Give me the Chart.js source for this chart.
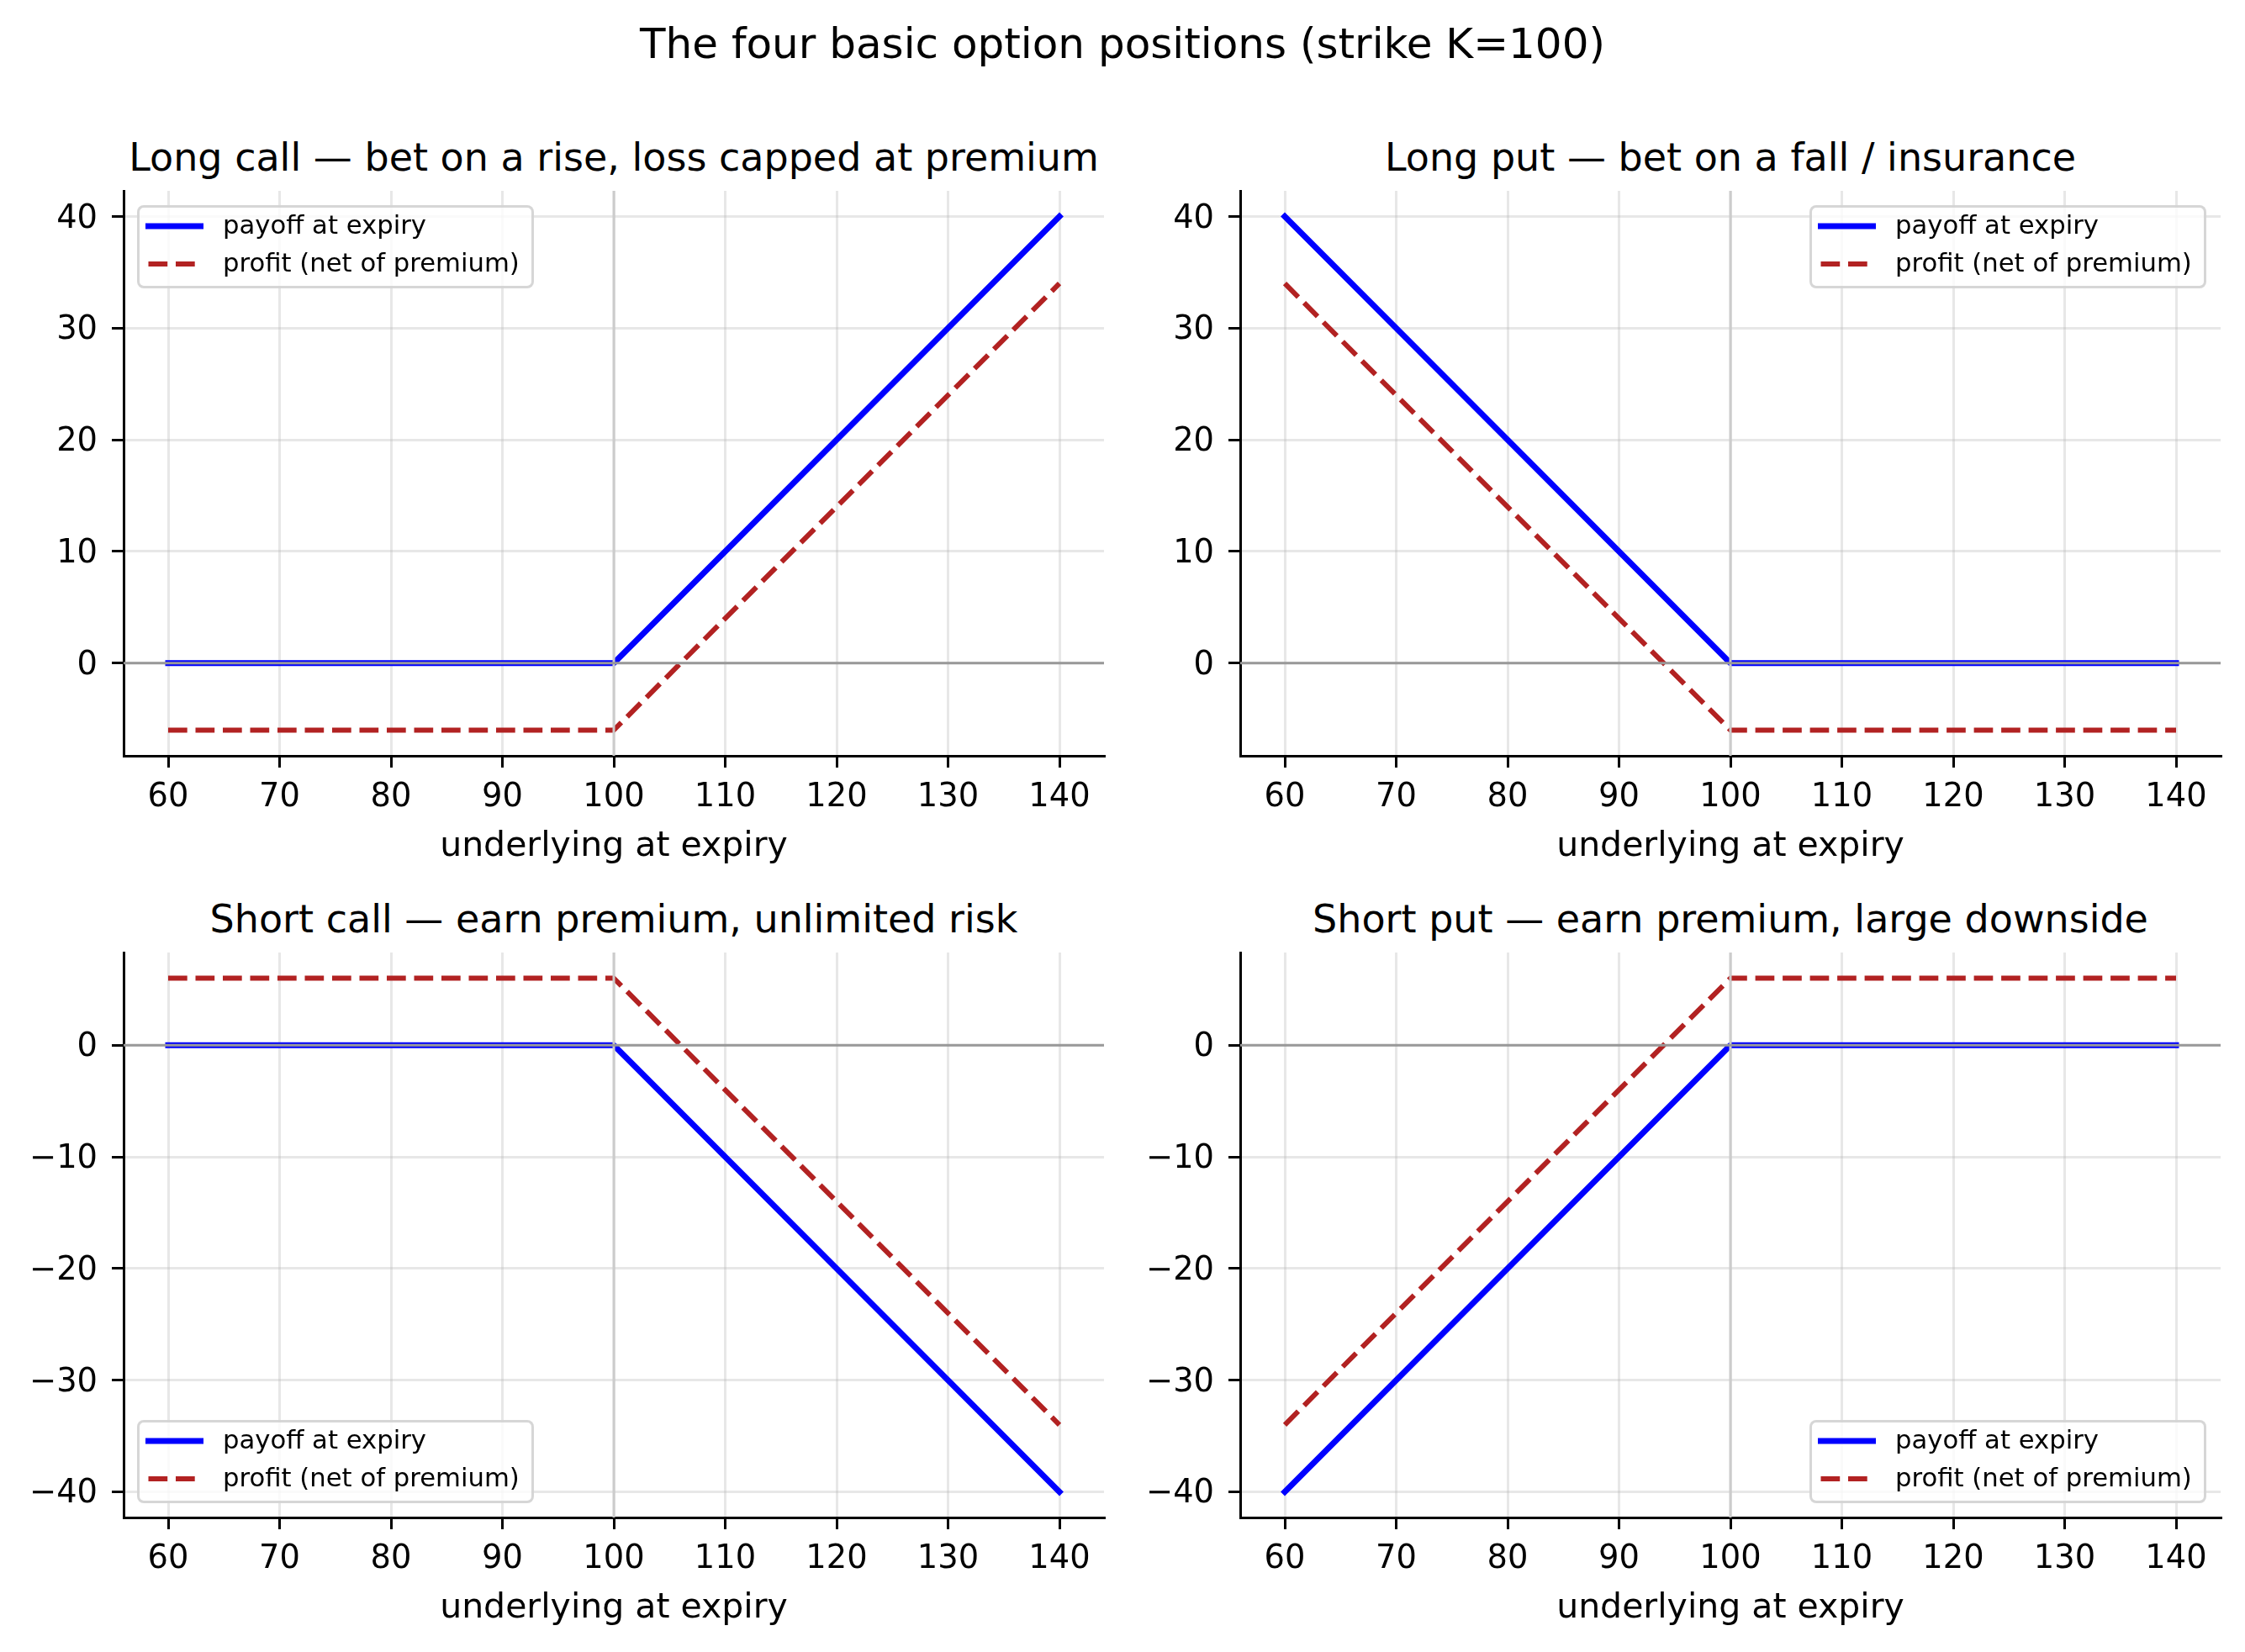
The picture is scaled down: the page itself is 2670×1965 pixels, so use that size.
<!DOCTYPE html>
<html>
<head>
<meta charset="utf-8">
<title>The four basic option positions</title>
<script src="https://cdn.jsdelivr.net/npm/chart.js@4.4.0/dist/chart.umd.min.js"></script>
<style>
  html, body { margin: 0; padding: 0; background: #fff; }
  body { width: 2670px; height: 1965px; position: relative; overflow: hidden;
         font-family: "DejaVu Sans", sans-serif; color: #000; }
  .txt { position: absolute; white-space: nowrap; line-height: 1; transform: translateX(-50%); }
  canvas { position: absolute; }
  .legend { position: absolute; box-sizing: border-box; width: 472px; height: 99px;
            border: 3px solid rgba(204,204,204,0.8); border-radius: 8px;
            background: rgba(255,255,255,0.8); z-index: 5; }
  .legend .lbl { position: absolute; left: 99px; font-size: 30.7px; line-height: 1; white-space: nowrap; }
  .legend svg { position: absolute; left: 7px; }
</style>
</head>
<body>
<script>
// underlying price at expiry (the lines are straight between these points)
const underlying = [60, 100, 140];

// long call
const longCallPayoff = [0, 0, 40];
const longCallProfit = [-6, -6, 34];
// long put
const longPutPayoff = [40, 0, 0];
const longPutProfit = [34, -6, -6];
// short call
const shortCallPayoff = [0, 0, -40];
const shortCallProfit = [6, 6, -34];
// short put
const shortPutPayoff = [-40, 0, 0];
const shortPutProfit = [-34, 6, 6];

const strike = 100;
const seriesLabels = ["payoff at expiry", "profit (net of premium)"];
const panelTitles = [
    "Long call \u2014 bet on a rise, loss capped at premium",
    "Long put \u2014 bet on a fall / insurance",
    "Short call \u2014 earn premium, unlimited risk",
    "Short put \u2014 earn premium, large downside"
];
const suptitle = "The four basic option positions (strike K=100)";
const xLabel = "underlying at expiry";

const xTicks = [60, 70, 80, 90, 100, 110, 120, 130, 140];
const yTicksUpper = [0, 10, 20, 30, 40];
const yTicksLower = [-40, -30, -20, -10, 0];
const xLimits = [56, 144];
const yLimitsUpper = [-8.3, 42.3];
const yLimitsLower = [-42.3, 8.3];

// layout (pixels)
const axLefts = [147, 1475];
const axTops = [227, 1133];
const axW = 1166, axH = 672;
const yAxisW = 147, xAxisH = 151, pad = 40;
const yLabelShift = 3;

const FONT = "DejaVu Sans";
Chart.defaults.color = "#000";
Chart.defaults.font.family = FONT;

function addText(str, size, cx, baseline) {
    const d = document.createElement("div");
    d.className = "txt";
    d.textContent = str;
    d.style.fontSize = size + "px";
    d.style.left = cx + "px";
    d.style.top = (baseline - 0.846 * size) + "px";
    document.body.appendChild(d);
}

function fmt(v) {
    return v < 0 ? "\u2212" + Math.abs(v) : String(v);
}

// nudge y tick labels down a little so they sit like matplotlib's
function shiftLabels(s) {
    if (s._shifted || typeof s._computeLabelItems !== "function") return;
    const base = s._computeLabelItems;
    s._computeLabelItems = function (area) {
        const items = base.call(this, area);
        items.forEach(it => {
            const t = it.options && it.options.translation;
            if (t) it.options.translation = [t[0], t[1] + yLabelShift];
        });
        return items;
    };
    s._shifted = true;
}

addText(suptitle, 50, 1335, 69);

const panels = [
    { payoff: longCallPayoff, profit: longCallProfit, yTicks: yTicksUpper, yLim: yLimitsUpper, col: 0, row: 0, legend: "upper left" },
    { payoff: longPutPayoff, profit: longPutProfit, yTicks: yTicksUpper, yLim: yLimitsUpper, col: 1, row: 0, legend: "upper right" },
    { payoff: shortCallPayoff, profit: shortCallProfit, yTicks: yTicksLower, yLim: yLimitsLower, col: 0, row: 1, legend: "lower left" },
    { payoff: shortPutPayoff, profit: shortPutProfit, yTicks: yTicksLower, yLim: yLimitsLower, col: 1, row: 1, legend: "lower right" }
];

function buildLegend(chart, corner, L, T, R, B) {
    const box = document.createElement("div");
    box.className = "legend";
    box.style.left = (corner.includes("left") ? L + 16 : R - 17 - 472) + "px";
    box.style.top = (corner.includes("upper") ? T + 17 : B - 17 - 99) + "px";
    chart.data.datasets
        .filter(ds => seriesLabels.includes(ds.label))
        .sort((a, b) => seriesLabels.indexOf(a.label) - seriesLabels.indexOf(b.label))
        .forEach((ds, i) => {
            const cy = 22 + i * 45;
            const dashed = ds.borderDash && ds.borderDash.length;
            const svgNS = "http://www.w3.org/2000/svg";
            const svg = document.createElementNS(svgNS, "svg");
            svg.setAttribute("width", "69");
            svg.setAttribute("height", "12");
            svg.style.top = (cy - 6) + "px";
            const ln = document.createElementNS(svgNS, "line");
            ln.setAttribute("x1", "3.5"); ln.setAttribute("y1", "6");
            ln.setAttribute("x2", "65.5"); ln.setAttribute("y2", "6");
            ln.setAttribute("stroke", ds.borderColor);
            ln.setAttribute("stroke-width", ds.borderWidth);
            ln.setAttribute("stroke-dasharray", dashed ? ds.borderDash.join(" ") : "none");
            ln.setAttribute("stroke-linecap", dashed ? "butt" : "square");
            svg.appendChild(ln);
            box.appendChild(svg);
            const lbl = document.createElement("div");
            lbl.className = "lbl";
            lbl.textContent = ds.label;
            lbl.style.top = (cy - 16) + "px";
            box.appendChild(lbl);
        });
    document.body.appendChild(box);
}

panels.forEach((p, idx) => {
    const L = axLefts[p.col], T = axTops[p.row], R = L + axW, B = T + axH;
    addText(panelTitles[idx], 46, (L + R) / 2, T - 24);

    const canvas = document.createElement("canvas");
    const cw = yAxisW + axW + pad, ch = pad + axH + xAxisH;
    canvas.width = cw; canvas.height = ch;
    canvas.style.left = (L - yAxisW) + "px";
    canvas.style.top = (T - pad) + "px";
    canvas.style.width = cw + "px";
    canvas.style.height = ch + "px";
    document.body.appendChild(canvas);

    const pts = ys => underlying.map((x, i) => ({ x: x, y: ys[i] }));

    const chart = new Chart(canvas.getContext("2d"), {
        type: "line",
        data: {
            datasets: [
                {   // zero line
                    label: "zero",
                    data: [{ x: xLimits[0], y: 0 }, { x: xLimits[1], y: 0 }],
                    borderColor: "#999999", borderWidth: 3, pointRadius: 0, order: 0
                },
                {   // strike marker
                    label: "strike",
                    data: [{ x: strike, y: p.yLim[0] }, { x: strike, y: p.yLim[1] }],
                    borderColor: "#cccccc", borderWidth: 3, pointRadius: 0, order: 0
                },
                {
                    label: seriesLabels[1],
                    data: pts(p.profit),
                    borderColor: "#b22222", borderWidth: 6,
                    borderDash: [22.7, 9.8], borderCapStyle: "butt", borderJoinStyle: "round",
                    pointRadius: 0, tension: 0, order: 1
                },
                {
                    label: seriesLabels[0],
                    data: pts(p.payoff),
                    borderColor: "#0000ff", borderWidth: 7,
                    borderCapStyle: "square", borderJoinStyle: "round",
                    pointRadius: 0, tension: 0, order: 2
                }
            ]
        },
        options: {
            responsive: false,
            animation: false,
            events: [],
            layout: { padding: { left: 0, top: pad, right: pad, bottom: 0 } },
            plugins: { legend: { display: false }, tooltip: { enabled: false }, title: { display: false } },
            scales: {
                x: {
                    type: "linear",
                    min: xLimits[0], max: xLimits[1],
                    afterBuildTicks: s => { s.ticks = xTicks.map(v => ({ value: v })); },
                    afterFit: s => { s.height = xAxisH; },
                    grid: { color: "rgba(176,176,176,0.3)", lineWidth: 3, tickLength: 14, tickColor: "#000", tickWidth: 3 },
                    border: { display: true, color: "#000", width: 3 },
                    ticks: { autoSkip: false, maxRotation: 0, padding: 17, color: "#000",
                             font: { family: FONT, size: 38.4, lineHeight: 1 }, callback: v => fmt(v) },
                    title: { display: true, text: xLabel, color: "#000",
                             font: { family: FONT, size: 41, lineHeight: 1 }, padding: { top: 0, bottom: 22 } }
                },
                y: {
                    type: "linear",
                    min: p.yLim[0], max: p.yLim[1],
                    afterBuildTicks: s => { s.ticks = p.yTicks.map(v => ({ value: v })); },
                    afterFit: s => { s.width = yAxisW; },
                    afterUpdate: shiftLabels,
                    grid: { color: "rgba(176,176,176,0.3)", lineWidth: 3, tickLength: 14, tickColor: "#000", tickWidth: 3 },
                    border: { display: true, color: "#000", width: 3 },
                    ticks: { autoSkip: false, padding: 17, color: "#000",
                             font: { family: FONT, size: 38.4, lineHeight: 1 }, callback: v => fmt(v) }
                }
            }
        }
    });

    buildLegend(chart, p.legend, L, T, R, B);
});
</script>
</body>
</html>
